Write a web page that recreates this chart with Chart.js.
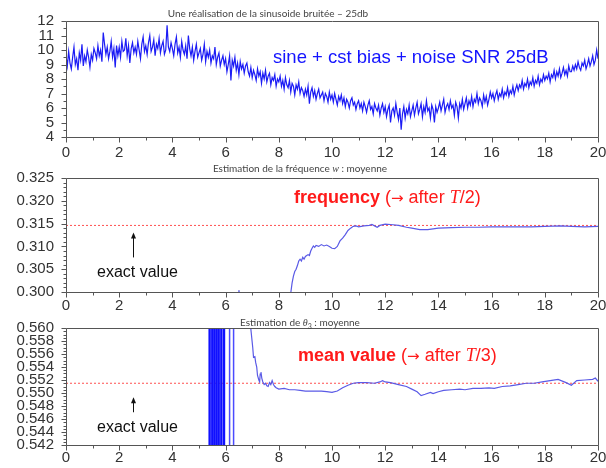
<!DOCTYPE html>
<html><head><meta charset="utf-8">
<script src="https://cdn.jsdelivr.net/npm/chart.js@4/dist/chart.umd.min.js"></script>
<style>
body{margin:0;background:#fff;}
#wrap{position:relative;width:606px;height:468px;overflow:hidden;background:#fff;}
canvas{position:absolute;left:0;}
.t{position:absolute;white-space:nowrap;}
.title{font-family:Lato,'Open Sans',sans-serif;font-size:10px;color:#444;transform:translateX(-50%);line-height:12px;}
.ann{font-family:'Liberation Sans',Arial,sans-serif;font-size:18px;line-height:20px;}
.red{color:#ff1a1a;}
.it{font-family:'Liberation Serif',serif;font-style:italic;}
.arr{font-family:'DejaVu Sans',sans-serif;font-size:15px;}
.ex{font-family:'Liberation Sans',Arial,sans-serif;font-size:16px;line-height:18px;color:#111;}
</style></head>
<body>
<div id="wrap">
<canvas id="c1" width="606" height="162" style="top:0px"></canvas>
<canvas id="c2" width="606" height="155" style="top:160px"></canvas>
<canvas id="c3" width="606" height="153" style="top:315px"></canvas>
<div class="t title" style="left:268px;top:7px;">Une réalisation de la sinusoide bruitée – 25db</div>
<div class="t title" style="left:300px;top:162px;">Estimation de la fréquence <span class="it">w</span> : moyenne</div>
<div class="t title" style="left:300px;top:316px;">Estimation de <span class="it">θ</span><sub style="font-size:7px">3</sub> : moyenne</div>
<div class="t ann" style="left:273px;top:47px;font-size:18.5px;color:#1414ff;">sine + cst bias + noise SNR 25dB</div>
<div class="t ann red" style="left:294px;top:187px;"><b>frequency</b> (<span class="arr">→</span> after <span class="it">T</span>/2)</div>
<div class="t ann red" style="left:298px;top:345px;"><b>mean value</b> (<span class="arr">→</span> after <span class="it">T</span>/3)</div>
<div class="t ex" style="left:97px;top:263px;">exact value</div>
<div class="t ex" style="left:97px;top:418px;">exact value</div>
</div>
<script>
// ---------- data ----------
const sampleStep = 0.05; // sampling grid of the noisy signal (t = 0 .. 20)
const noisySignal = [
9.6,8.9,9.9,9.1,8.7,9.5,10.2,9.0,9.4,8.6,9.8,9.3,10.4,8.9,9.6,9.2,10.0,9.5,8.8,9.7,
9.3,10.1,9.8,9.4,10.3,9.6,10.0,9.2,11.2,10.4,9.7,10.2,9.4,9.9,10.6,9.5,10.1,8.8,10.3,9.6,
10.2,9.5,10.6,9.9,10.0,10.8,9.6,10.3,9.1,10.1,10.5,9.8,10.2,9.7,10.6,10.0,9.4,10.4,10.9,9.9,
10.3,9.7,10.5,11.0,9.9,10.2,10.7,9.6,10.4,10.1,10.8,9.8,10.3,10.6,9.7,10.0,11.7,10.2,9.9,10.5,
10.1,9.6,10.4,10.9,9.8,10.2,9.5,10.6,10.0,9.7,10.3,9.4,11.0,10.1,9.6,10.2,9.3,9.9,10.4,9.5,
9.8,10.1,9.3,9.7,10.4,9.2,9.9,9.5,10.0,9.1,9.6,9.4,10.2,9.0,9.5,9.8,8.9,9.3,9.6,9.0,
9.4,8.5,9.0,9.6,7.9,9.3,8.9,9.5,8.6,9.1,8.3,9.2,8.7,9.0,8.4,8.9,9.1,8.5,8.2,8.8,
8.1,8.6,8.3,7.9,8.7,8.2,8.5,7.7,8.4,8.0,8.6,7.8,8.2,8.4,7.6,8.1,7.9,8.3,7.5,8.0,
7.8,8.2,7.5,7.9,7.3,8.1,7.6,7.4,7.9,7.1,7.7,7.5,6.9,7.6,7.3,7.8,7.0,7.4,7.2,6.8,
7.3,6.9,7.5,6.3,7.1,7.4,6.8,7.2,6.6,7.0,7.3,6.7,6.9,7.1,6.5,7.0,6.8,6.4,7.1,6.6,
6.9,6.4,7.0,6.6,6.2,6.8,6.5,6.9,6.3,6.7,6.1,6.6,6.4,6.0,6.5,6.7,6.2,6.4,5.9,6.3,
6.5,6.0,6.3,5.8,6.4,6.1,5.7,6.2,6.5,5.9,6.1,5.6,6.3,6.0,5.8,6.2,5.5,6.0,6.3,5.7,
6.1,5.4,5.9,6.2,5.0,5.8,6.0,5.5,6.3,5.7,5.2,6.0,4.5,5.6,6.1,5.3,5.9,5.6,6.2,5.4,
5.8,6.2,5.5,6.0,6.4,5.6,5.9,6.3,5.4,6.1,5.7,6.5,5.8,6.0,5.3,6.2,5.9,5.0,6.1,5.7,
6.0,6.4,5.8,6.2,6.6,5.7,6.1,6.3,5.9,6.5,6.0,6.2,5.5,6.4,6.1,5.3,6.3,6.0,6.6,5.9,
6.3,6.7,6.0,6.5,6.2,6.8,6.1,6.6,6.4,7.0,6.3,6.7,6.5,6.1,6.9,6.4,6.8,6.2,6.6,7.1,
6.7,7.0,6.5,6.9,7.2,6.6,7.0,6.8,7.3,6.7,7.1,6.9,7.4,6.8,7.2,7.0,7.5,6.9,7.3,7.6,
7.2,7.6,7.4,7.9,7.3,7.7,7.5,8.0,7.4,7.8,7.6,8.1,7.5,7.9,7.7,8.2,7.6,8.0,7.8,8.3,
7.9,8.2,8.0,8.4,7.8,8.3,8.1,8.6,8.0,8.5,8.2,8.7,8.1,8.4,8.8,8.3,8.6,8.2,8.9,8.5,
8.5,8.9,8.6,9.0,8.7,9.2,8.8,8.6,9.1,8.9,9.3,8.7,9.0,9.4,8.9,9.2,9.6,9.0,9.3,10.0,
9.4];

const freqT = [0.1,6.40,6.48,6.50,6.52,6.60,8.30,8.45,8.50,8.55,8.60,8.65,8.70,8.75,8.80,8.85,8.90,8.95,9.00,9.05,9.10,9.15,9.20,9.25,9.30,9.35,9.40,9.50,9.60,9.70,9.80,9.90,10.00,10.10,10.20,10.30,10.40,10.50,10.60,10.70,10.80,10.90,11.00,11.20,11.40,11.50,11.60,11.70,11.80,12.00,12.20,12.50,12.80,13.00,13.30,13.60,14.00,14.50,15.00,15.50,16.00,16.50,17.00,17.50,18.00,18.60,19.00,19.50,20.00];
const freqEst = [0.250,0.290,0.2995,0.3004,0.2995,0.290,0.290,0.2998,0.3020,0.3035,0.3045,0.3050,0.3058,0.3068,0.3072,0.3068,0.3076,0.3072,0.3078,0.3080,0.3082,0.3080,0.3090,0.3096,0.3101,0.3098,0.3102,0.3100,0.3104,0.3101,0.3103,0.3100,0.3096,0.3095,0.3100,0.3112,0.3118,0.3126,0.3135,0.3140,0.3144,0.3145,0.3143,0.3145,0.3146,0.3148,0.3145,0.3142,0.3146,0.3149,0.3148,0.3146,0.3142,0.3140,0.3137,0.3137,0.3140,0.3141,0.3142,0.3142,0.3143,0.3143,0.3143,0.3143,0.3144,0.3145,0.3144,0.3143,0.3144];
const freqExact = 0.3146;

const meanT = [0.1,
5.40,5.40,5.50,5.50,5.58,5.58,5.66,5.66,5.74,5.74,5.84,5.84,5.94,5.94,6.15,6.15,6.30,6.30,
6.85,6.92,6.97,7.02,7.05,7.10,7.13,7.17,7.20,7.25,7.28,7.30,7.33,7.36,7.40,7.45,7.50,7.55,7.60,7.65,7.70,7.75,7.80,7.85,7.90,8.00,8.20,8.40,8.60,8.80,9.00,9.30,9.60,9.80,10.00,10.20,10.40,10.60,10.80,11.00,11.30,11.60,11.80,11.90,12.00,12.20,12.50,12.80,13.00,13.20,13.35,13.50,13.70,13.80,14.00,14.20,14.50,14.80,15.00,15.30,15.60,15.90,16.10,16.40,16.70,17.00,17.30,17.60,17.90,18.20,18.50,18.80,19.00,19.20,19.50,19.80,19.90,20.00];
const meanEst = [0.40,
0.40,0.70,0.70,0.40,0.40,0.70,0.70,0.40,0.40,0.70,0.70,0.40,0.40,0.70,0.70,0.40,0.40,0.70,
0.600,0.561,0.559,0.557,0.5555,0.5556,0.5547,0.5540,0.5527,0.5520,0.5517,0.5529,0.5532,0.5523,0.5517,0.5513,0.5515,0.5511,0.5510,0.5516,0.5513,0.5519,0.5513,0.5510,0.5508,0.5506,0.5507,0.5505,0.5505,0.5504,0.5503,0.5503,0.5503,0.5502,0.5501,0.5503,0.5508,0.5512,0.5515,0.5516,0.5516,0.5515,0.5517,0.5519,0.5517,0.5516,0.5513,0.5510,0.5506,0.5502,0.5496,0.5498,0.5501,0.5499,0.5502,0.5504,0.5505,0.5506,0.5505,0.5507,0.5507,0.5508,0.5507,0.5510,0.5511,0.5513,0.5515,0.5515,0.5517,0.5519,0.5521,0.5516,0.5512,0.5519,0.5520,0.5521,0.5523,0.5518];
const meanExact = 0.5515;

// ---------- drawing ----------
Chart.defaults.font.family = "'Liberation Sans', Arial, sans-serif";

const frameTicks = {
  id: 'frameTicks',
  afterDraw(chart, args, o) {
    const {ctx, chartArea: a, scales: {x, y}} = chart;
    ctx.save();
    ctx.strokeStyle = '#555';
    ctx.lineWidth = 1;
    ctx.beginPath();
    const L = Math.round(a.left) + 0.5, T = Math.round(a.top) + 0.5;
    const R = Math.round(a.right) + 0.5, B = Math.round(a.bottom) + 0.5;
    ctx.rect(L, T, R - L, B - T);
    const isMajor = (v, ticks) => ticks.some(t => Math.abs(t.value - v) < 1e-9);
    const nx = Math.round((x.max - x.min) / o.xMinor);
    for (let i = 0; i <= nx; i++) {
      const v = x.min + i * o.xMinor;
      const px = Math.round(x.getPixelForValue(v)) + 0.5;
      ctx.moveTo(px, B); ctx.lineTo(px, B + (isMajor(v, x.ticks) ? 5 : 3));
    }
    const ny = Math.round((y.max - y.min) / o.yMinor);
    for (let i = 0; i <= ny; i++) {
      const v = y.min + i * o.yMinor;
      const py = Math.round(y.getPixelForValue(v)) + 0.5;
      ctx.moveTo(L, py); ctx.lineTo(L - (isMajor(v, y.ticks) ? 5 : 3), py);
    }
    ctx.stroke();
    if (o.arrow) {
      const px = Math.round(x.getPixelForValue(o.arrow.x)) + 0.5;
      const py = y.getPixelForValue(o.arrow.value);
      const head = py + o.arrow.gap, tail = head + o.arrow.len;
      ctx.strokeStyle = '#111'; ctx.fillStyle = '#111';
      ctx.beginPath(); ctx.moveTo(px, tail); ctx.lineTo(px, head + 3); ctx.stroke();
      ctx.beginPath(); ctx.moveTo(px, head); ctx.lineTo(px - 2.5, head + 6); ctx.lineTo(px + 2.5, head + 6); ctx.closePath(); ctx.fill();
    }
    ctx.restore();
  }
};

function makeChart(id, datasets, yOpt, padTop, xH, xPad, frameOpt) {
  return new Chart(document.getElementById(id), {
    type: 'line',
    data: {datasets},
    options: {
      responsive: false, animation: false, devicePixelRatio: 1,
      layout: {padding: {left: 0, right: 8, top: padTop, bottom: 0}},
      plugins: {legend: {display: false}, tooltip: {enabled: false}, title: {display: false}, frameTicks: frameOpt},
      elements: {point: {radius: 0}, line: {tension: 0}},
      scales: {
        x: {type: 'linear', min: 0, max: 20,
            grid: {display: false, drawTicks: false}, border: {display: false},
            ticks: {stepSize: 2, autoSkip: false, maxRotation: 0, padding: xPad, color: '#333', font: {size: 15}},
            afterFit(s) { s.height = xH; s.paddingLeft = 0; s.paddingRight = 0; }},
        y: {type: 'linear', min: yOpt.min, max: yOpt.max,
            grid: {display: false, drawTicks: false}, border: {display: false},
            ticks: {stepSize: yOpt.step, autoSkip: false, padding: 12, color: '#333', font: {size: 15}, callback: yOpt.fmt},
            afterFit(s) { s.width = 66; s.paddingTop = 0; s.paddingBottom = 0; }}
      }
    },
    plugins: [frameTicks]
  });
}

const pts = (xs, ys) => ys.map((v, i) => ({x: xs[i], y: v}));
const sigPts = noisySignal.map((v, i) => ({x: +(i * sampleStep).toFixed(2), y: v}));
const vertical = c => c.p0.parsed.x === c.p1.parsed.x;

makeChart('c1', [
  {data: sigPts, borderColor: '#1c1cf5', borderWidth: 1.2}
], {min: 4, max: 12, step: 1, fmt: v => v}, 21, 25, 7, {xMinor: 1, yMinor: 0.5});

makeChart('c2', [
  {data: pts(freqT, freqEst), borderColor: '#5a5ae6', borderWidth: 1.2},
  {data: [{x: 0, y: freqExact}, {x: 20, y: freqExact}], borderColor: '#ff5050', borderWidth: 1, borderDash: [2, 2]}
], {min: 0.300, max: 0.325, step: 0.005, fmt: v => v.toFixed(3)}, 18, 23, 5,
  {xMinor: 1, yMinor: 0.001, arrow: {x: 2.5, value: freqExact, gap: 7, len: 25}});

makeChart('c3', [
  {data: pts(meanT, meanEst), borderColor: '#5a5ae6', borderWidth: 1.2,
   segment: {borderColor: c => vertical(c) ? (c.p0.parsed.x > 6 ? '#4a4aff' : '#1010ff') : undefined,
             borderWidth: c => vertical(c) ? (c.p0.parsed.x > 6 ? 1.5 : 2.4) : undefined}},
  {data: [{x: 0, y: meanExact}, {x: 20, y: meanExact}], borderColor: '#ff5050', borderWidth: 1, borderDash: [2, 2]}
], {min: 0.542, max: 0.560, step: 0.002, fmt: v => v.toFixed(3)}, 13, 23, 4,
  {xMinor: 1, yMinor: 0.0005, arrow: {x: 2.5, value: meanExact, gap: 14, len: 15}});
</script>
</body></html>
